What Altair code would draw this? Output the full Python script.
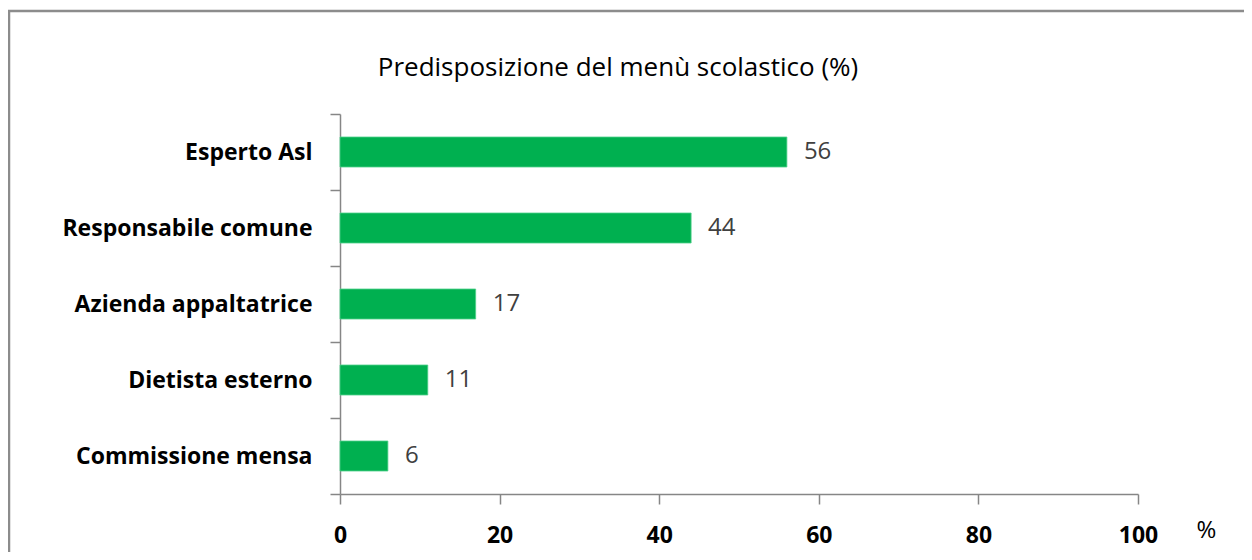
import altair as alt
import pandas as pd

categories = ["Esperto Asl", "Responsabile comune", "Azienda appaltatrice",
              "Dietista esterno", "Commissione mensa"]
values = [56, 44, 17, 11, 6]
x_ticks = [0, 20, 40, 60, 80, 100]
title_text = "Predisposizione del menù scolastico (%)"

df = pd.DataFrame({"cat": categories, "val": values})
df_title = pd.DataFrame({"t": [title_text]})

FONT = "Open Sans"
GRAY = "#868686"

y_enc = alt.Y("cat:N", sort=categories,
              scale=alt.Scale(paddingInner=0, paddingOuter=0),
              axis=alt.Axis(title=None, tickBand="extent", tickSize=10,
                            labelPadding=18, labelFont=FONT, labelFontSize=23,
                            labelFontWeight="bold", labelColor="#000000",
                            domainColor=GRAY, tickColor=GRAY, domainWidth=1.5,
                            tickWidth=1.5, labelLimit=400))
x_enc = alt.X("val:Q", scale=alt.Scale(domain=[0, 100], nice=False),
              axis=alt.Axis(values=x_ticks, title="%", grid=False, tickSize=10,
                            labelPadding=20, labelFlush=False, labelFont=FONT,
                            labelFontSize=23, labelFontWeight="bold",
                            labelColor="#000000", domainColor=GRAY,
                            tickColor=GRAY, domainWidth=1.5, tickWidth=1.5,
                            titleFont=FONT, titleFontSize=24,
                            titleFontWeight="normal", titleColor="#000000",
                            titleX=866, titleY=36, titleAlign="center",
                            titleBaseline="middle"))

bars = alt.Chart(df).mark_bar(color="#00B050", stroke="#4fd08a",
                              strokeWidth=0.8, size=30).encode(x=x_enc, y=y_enc)
labels = alt.Chart(df).mark_text(align="left", baseline="middle", dx=17,
                                 font=FONT, fontSize=24, color="#404040").encode(
    x=alt.X("val:Q"), y=alt.Y("cat:N", sort=categories), text="val:Q")

title = alt.Chart(df_title).mark_text(font=FONT, fontSize=26, fontWeight="normal",
                                      color="#000000", align="center",
                                      baseline="middle").encode(
    text="t:N", x=alt.value(278), y=alt.value(-46))

# decorative chart-area border (left and top edges visible in the reference)
border_top = alt.Chart(df_title).mark_rule(color="#8c8c8c", strokeWidth=2.5).encode(
    x=alt.value(-332), x2=alt.value(930), y=alt.value(-103))
border_left = alt.Chart(df_title).mark_rule(color="#8c8c8c", strokeWidth=2.5).encode(
    x=alt.value(-331), y=alt.value(-103), y2=alt.value(460))

chart = alt.layer(bars, labels, title, border_top, border_left).properties(
    width=798, height=380,
    background="white",
    autosize=alt.AutoSizeParams(type="none"),
    padding={"left": 332, "top": 106, "right": 106, "bottom": 58},
).configure_view(strokeWidth=0, stroke="transparent")

chart.save("out.html", embed_options={"renderer": "svg", "actions": False})
